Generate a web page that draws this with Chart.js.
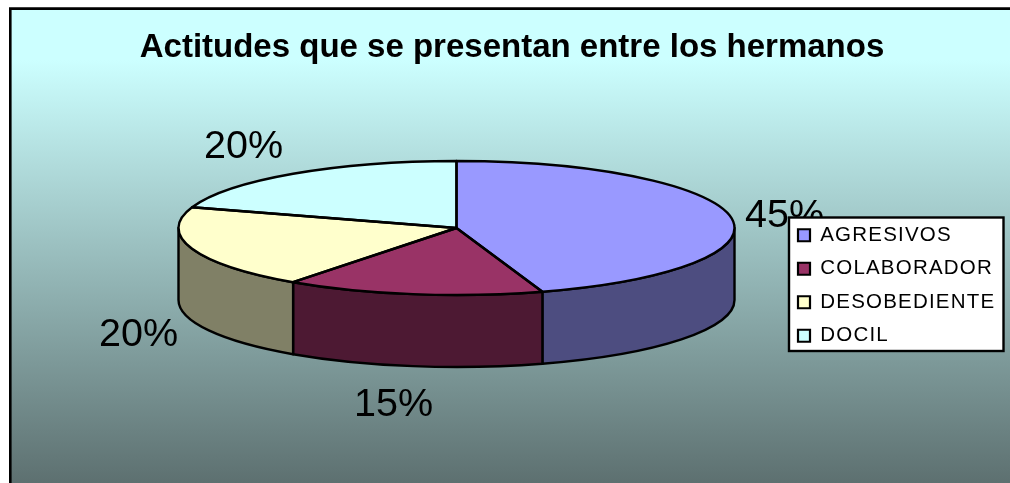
<!DOCTYPE html>
<html>
<head>
<meta charset="utf-8">
<style>html,body{margin:0;padding:0;background:#fff}canvas{display:block}</style>
<script src="https://cdn.jsdelivr.net/npm/chart.js@4"></script>
</head>
<body>
<canvas id="c" width="1010" height="483"></canvas>
<script>
const titleText = 'Actitudes que se presentan entre los hermanos';
const categories = ['AGRESIVOS', 'COLABORADOR', 'DESOBEDIENTE', 'DOCIL'];
const values = [45, 15, 20, 20];
const topColors = ['#9999FF', '#993366', '#FFFFCC', '#CCFFFF'];
const sideColors = ['#4D4D80', '#4D1933', '#808066', '#668080'];

const FONT = '"Liberation Sans", Arial, sans-serif';
const view = {cx: 456.5, cy: 228, rx: 278, ry: 67, depth: 72};
const labelSpots = [[745, 227], [354, 416], [99, 346], [204, 158]];

function slices(chart){ return chart.getDatasetMeta(0).data; }

const pie3d = {
  id: 'pie3d',
  afterLayout(chart){
    const lg = chart.legend;
    lg.left = 785; lg.top = 212; lg.right = 1004; lg.bottom = 420;
    if (!lg._spaced){
      const base = lg.draw.bind(lg);
      lg.draw = function(){
        const ctx = chart.ctx;
        ctx.save(); ctx.letterSpacing = '1.2px'; base(); ctx.restore();
      };
      lg._spaced = true;
    }
  },
  beforeDraw(chart){
    const ctx = chart.ctx, W = chart.width, H = chart.height;
    ctx.save();
    ctx.fillStyle = '#fff'; ctx.fillRect(0, 0, W, H);
    const g = ctx.createLinearGradient(0, 60, 0, H);
    g.addColorStop(0, '#CCFFFF'); g.addColorStop(1, '#5D7070');
    ctx.fillStyle = g; ctx.fillRect(10, 8, W - 10, H - 8);
    ctx.strokeStyle = '#000'; ctx.lineWidth = 2.6;
    ctx.beginPath(); ctx.moveTo(10.3, H); ctx.lineTo(10.3, 8.6); ctx.lineTo(W, 8.6); ctx.stroke();
    // percentage labels sit below the legend box
    ctx.fillStyle = '#000'; ctx.font = '39.5px ' + FONT;
    ctx.textAlign = 'left'; ctx.textBaseline = 'alphabetic';
    const total = values.reduce((a, b) => a + b, 0);
    values.forEach((v, i) => {
      ctx.fillText(Math.round(v / total * 100) + '%', labelSpots[i][0], labelSpots[i][1]);
    });
    // legend panel
    ctx.fillStyle = '#fff'; ctx.fillRect(789, 217.5, 214.5, 133.5);
    ctx.strokeStyle = '#000'; ctx.lineWidth = 2.4;
    ctx.strokeRect(789, 217.5, 214.5, 133.5);
    ctx.restore();
  },
  beforeDatasetsDraw(chart){
    const ctx = chart.ctx, {cx, cy, rx, ry, depth} = view;
    ctx.save();
    ctx.lineWidth = 2.4; ctx.strokeStyle = '#000'; ctx.lineJoin = 'round';
    slices(chart).forEach((arc, i) => {
      const a = Math.max(arc.startAngle, 0), b = Math.min(arc.endAngle, Math.PI);
      if (b <= a) return;
      ctx.beginPath();
      ctx.ellipse(cx, cy, rx, ry, 0, a, b);
      ctx.ellipse(cx, cy + depth, rx, ry, 0, b, a, true);
      ctx.closePath();
      ctx.fillStyle = sideColors[i];
      ctx.fill(); ctx.stroke();
    });
    ctx.restore();
    const first = slices(chart)[0];
    ctx.save();
    ctx.translate(cx, cy);
    ctx.scale(rx / first.outerRadius, ry / first.outerRadius);
    ctx.translate(-first.x, -first.y);
  },
  afterDatasetsDraw(chart){
    const ctx = chart.ctx, {cx, cy, rx, ry} = view;
    ctx.restore();
    ctx.save();
    ctx.lineWidth = 2.4; ctx.strokeStyle = '#000'; ctx.lineJoin = 'round';
    slices(chart).forEach(arc => {
      ctx.beginPath();
      ctx.moveTo(cx, cy);
      ctx.ellipse(cx, cy, rx, ry, 0, arc.startAngle, arc.endAngle);
      ctx.closePath();
      ctx.stroke();
    });
    ctx.restore();
  }
};

new Chart(document.getElementById('c'), {
  type: 'pie',
  plugins: [pie3d],
  data: {
    labels: categories,
    datasets: [{
      data: values,
      backgroundColor: topColors,
      borderWidth: 0,
      hoverOffset: 0,
      clip: false
    }]
  },
  options: {
    responsive: false,
    animation: false,
    events: [],
    layout: {padding: {left: 14}},
    plugins: {
      tooltip: {enabled: false},
      title: {
        display: true,
        text: titleText,
        color: '#000',
        font: {family: FONT, size: 33, weight: 'bold'},
        padding: {top: 28, bottom: 10}
      },
      legend: {
        display: true,
        position: 'right',
        align: 'start',
        labels: {
          color: '#000',
          font: {family: FONT, size: 20.5},
          boxWidth: 12,
          boxHeight: 12,
          padding: 13,
          generateLabels(chart){
            return categories.map((t, i) => ({
              text: t, index: i, fillStyle: topColors[i],
              strokeStyle: '#000', lineWidth: 2.2, hidden: false
            }));
          }
        }
      }
    }
  }
});
</script>
</body>
</html>
